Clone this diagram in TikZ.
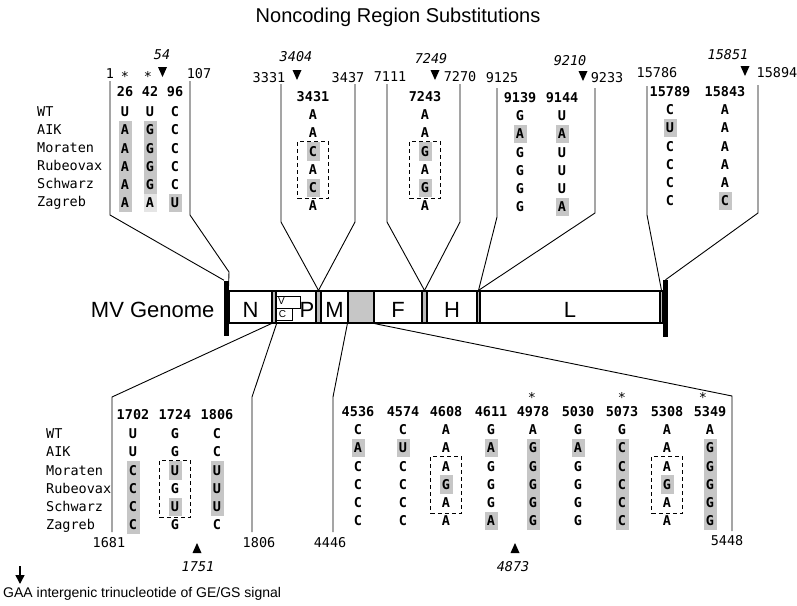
\documentclass[tikz,border=0pt]{standalone}
\usepackage{fontspec}
\setmainfont{Liberation Sans}
\newfontfamily\seqfont{DejaVu Sans Mono}
\usetikzlibrary{fit,arrows.meta}

\tikzset{txt/.style = {inner sep=0pt, text height=9.5pt, text depth=0pt}}
\tikzset{lbl/.style = {txt, font=\seqfont\fontsize{13.5}{15}\selectfont}}
\tikzset{hdr/.style = {txt, font=\seqfont\bfseries\fontsize{13.5}{15}\selectfont}}
\tikzset{ita/.style = {txt, font=\seqfont\itshape\fontsize{13.5}{15}\selectfont}}
\tikzset{astk/.style = {txt, font=\seqfont\fontsize{13.5}{14}\selectfont}}
\tikzset{nt/.style = {hdr, minimum width=13pt, minimum height=18.4pt}}
\tikzset{f0/.style = {}}
\tikzset{f1/.style = {fill=gray!45}}
\tikzset{f2/.style = {fill=gray!20}}
\tikzset{dbox/.style = {draw, line width=0.9pt, dash pattern=on 4pt off 3pt, inner xsep=8.5pt, inner ysep=1pt}}
\tikzset{conn/.style = {line width=0.9pt}}
\tikzset{seg/.style = {draw, line width=1.2pt, inner sep=0pt, minimum height=32pt, text height=20pt, text depth=0pt, font=\fontsize{22}{24}\selectfont}}
\tikzset{gapseg/.style = {seg, fill=gray!55}}
\tikzset{endbar/.style = {fill=black, inner sep=0pt, minimum width=4.5pt}}
\tikzset{vcbox/.style = {draw, line width=0.7pt, inner sep=0pt, minimum height=12pt}}
\tikzset{small/.style = {inner sep=0pt, font=\fontsize{10}{12}\selectfont}}
\tikzset{downtri/.pic = {\fill (-4.5,-5) -- (4.5,-5) -- (0,5) -- cycle;}}
\tikzset{uptri/.pic = {\fill (-4.5,5) -- (4.5,5) -- (0,-5) -- cycle;}}

\begin{document}
\begin{tikzpicture}[x=1pt, y=-1pt]
	\useasboundingbox (0,0) rectangle (797,605);
	% Title
	\node[anchor=base, font=\fontsize{20}{24}\selectfont] (title) at (398,23) {Noncoding Region Substitutions};
	% Genome
	\node[anchor=base east, font=\fontsize{22}{24}\selectfont] (mvg) at (218,317) {MV Genome};
	\node[endbar, minimum height=55pt] (lbar) at (226.5,308) {};
	\node[seg, minimum width=43pt]          (N) at (250.5,307) {N};
	\node[gapseg, minimum width=4pt]      (gNP) at (274,307) {};
	\node[seg, minimum width=40pt]          (P) at (296,307) {};
	\node[vcbox, minimum width=24pt]     (Vbox) at (288,302) {};
	\node[vcbox, minimum width=16pt]     (Cbox) at (284,314) {};
	\node[small]                           (Vl) at (281.5,301) {V};
	\node[small]                           (Cl) at (282.5,314.5) {C};
	\node[anchor=base, inner sep=0pt, font=\fontsize{22}{24}\selectfont] (Pl) at (307,317) {P};
	\node[gapseg, minimum width=5pt]      (gPM) at (318.5,307) {};
	\node[seg, minimum width=27pt]          (M) at (334.5,307) {M};
	\node[gapseg, minimum width=26pt, fill=gray!45] (MF) at (361,307) {};
	\node[seg, minimum width=48pt]          (F) at (398,307) {F};
	\node[gapseg, minimum width=5pt]      (gFH) at (424.5,307) {};
	\node[seg, minimum width=50pt]          (H) at (452,307) {H};
	\node[gapseg, minimum width=3pt]      (gHL) at (478.5,307) {};
	\node[seg, minimum width=180pt]         (L) at (570,307) {L};
	\node[gapseg, minimum width=3pt]      (gLE) at (661.5,307) {};
	\node[endbar, minimum height=57pt] (rbar) at (665.5,308.5) {};
	% Strain names
	\foreach \s [count=\row] in {WT,AIK,Moraten,Rubeovax,Schwarz,Zagreb} {
		\node[lbl, anchor=west] (tl\row) at (37,{112+18*(\row-1)}) {\s};
		\node[lbl, anchor=west] (bl\row) at (46,{434+18.2*(\row-1)}) {\s};
	}
	% Positions
	\node[lbl]     (n1) at (110,74) {1};
	\node[lbl]   (n107) at (199,74) {107};
	\node[lbl]  (n3331) at (269,78) {3331};
	\node[lbl]  (n3437) at (348,78) {3437};
	\node[lbl]  (n7111) at (390,77) {7111};
	\node[lbl]  (n7270) at (460,77) {7270};
	\node[lbl]  (n9125) at (502,78) {9125};
	\node[lbl]  (n9233) at (607,78) {9233};
	\node[lbl] (n15786) at (657,73) {15786};
	\node[lbl] (n15894) at (777,73) {15894};
	\node[lbl]  (n1681) at (109,543) {1681};
	\node[lbl]  (n1806) at (259,543) {1806};
	\node[lbl]  (n4446) at (330,543) {4446};
	\node[lbl]  (n5448) at (727,541) {5448};
	% GE/GS trinucleotides
	\node[ita]    (i54) at (162,55) {54};
	\node[ita]  (i3404) at (296,57) {3404};
	\node[ita]  (i7249) at (431,59) {7249};
	\node[ita]  (i9210) at (570,61) {9210};
	\node[ita] (i15851) at (728,55) {15851};
	\node[ita]  (i1751) at (198,567) {1751};
	\node[ita]  (i4873) at (513,567) {4873};
	\foreach \p in {(162.5,72), (297,75), (435,75), (583,76), (745,71)}
		\pic at \p {downtri};
	\foreach \p in {(197,548), (515,548)}
		\pic at \p {uptri};
	% Stars
	\foreach \p [count=\k] in {(125,77), (148,77), (532,398), (622,398), (703,398)}
		\node[astk] (st\k) at \p {*};
	% Column heads
	\foreach \cx/\cy/\h [count=\k] in {125/92/26, 150/92/42, 175/92/96, 313/97/3431, 425/97/7243,
			520/98/9139, 562/98/9144, 670/92/15789, 725/92/15843, 133/415/1702, 175/415/1724, 217/415/1806,
			358/412/4536, 403/412/4574, 446/412/4608, 491/412/4611, 533/412/4978, 578/412/5030,
			622/412/5073, 667/412/5308, 710/412/5349}
		\node[hdr] (h\k) at (\cx,\cy) {\h};
	% Nucleotides
	\foreach \cx/\cy/\col [count=\k] in {
			125/112/{U/0,A/1,A/1,A/1,A/1,A/1}, 150/112/{U/0,G/1,G/1,G/1,G/1,A/2},
			175/112/{C/0,C/0,C/0,C/0,C/0,U/1}, 313/115/{A/0,A/0,C/1,A/0,C/1,A/0},
			425/115/{A/0,A/0,G/1,A/0,G/1,A/0}, 520/116/{G/0,A/1,G/0,G/0,G/0,G/0},
			562/116/{U/0,A/1,U/0,U/0,U/0,A/1}, 670/110/{C/0,U/1,C/0,C/0,C/0,C/0},
			725/110/{A/0,A/0,A/0,A/0,A/0,C/1}, 133/434/{U/0,U/0,C/1,C/1,C/1,C/1},
			175/434/{G/0,G/0,U/1,G/0,U/1,G/0}, 217/434/{C/0,C/0,U/1,U/1,U/1,C/0},
			358/430/{C/0,A/1,C/0,C/0,C/0,C/0}, 403/430/{C/0,U/1,C/0,C/0,C/0,C/0},
			446/430/{A/0,A/0,A/0,G/1,A/0,A/0}, 491/430/{G/0,A/1,G/0,G/0,G/0,A/1},
			533/430/{A/0,G/1,G/1,G/1,G/1,G/1}, 578/430/{G/0,A/1,G/0,G/0,G/0,G/0},
			622/430/{G/0,C/1,C/1,C/1,C/1,C/1}, 667/430/{A/0,A/0,A/0,G/1,A/0,A/0},
			710/430/{A/0,G/1,G/1,G/1,G/1,G/1}}
		\foreach \nuc/\fl [count=\row] in \col
			\node[nt, f\fl] (c\k-\row) at (\cx,{\cy+18.2*(\row-1)}) {\nuc};
	% Dashed boxes
	\foreach \k in {4,5,11,15,20}
		\node[dbox, fit=(c\k-3)(c\k-5)] (box\k) {};
	% Connectors
	\coordinate (t1a) at (110,81);  \coordinate (t1b) at (110,215);
	\coordinate (t1c) at (190,81);  \coordinate (t1d) at (190,215);  \coordinate (t1e) at (229,272);
	\coordinate (t2a) at (281,84);  \coordinate (t2b) at (281,222);
	\coordinate (t2c) at (355,84);  \coordinate (t2d) at (355,222);
	\coordinate (t3a) at (387,84);  \coordinate (t3b) at (387,222);
	\coordinate (t3c) at (460,84);  \coordinate (t3d) at (460,222);
	\coordinate (t4a) at (497,88);  \coordinate (t4b) at (497,217);
	\coordinate (t4c) at (595,88);  \coordinate (t4d) at (595,213);
	\coordinate (t5a) at (647,86);  \coordinate (t5b) at (647,215);
	\coordinate (t5c) at (758,85);  \coordinate (t5d) at (758,213);
	\coordinate (b1a) at (112,397); \coordinate (b1b) at (112,532);
	\coordinate (b1c) at (252,397); \coordinate (b1d) at (252,532);
	\coordinate (b2a) at (333,397); \coordinate (b2b) at (333,532);
	\coordinate (b2c) at (732,396); \coordinate (b2d) at (732,531);
	\foreach \from/\via/\to in {t1a/t1b/lbar.north west, t2a/t2b/gPM.north, t2c/t2d/gPM.north,
			t3a/t3b/gFH.north, t3c/t3d/gFH.north, t4a/t4b/gHL.north, t4c/t4d/gHL.north,
			t5a/t5b/gLE.north, t5c/t5d/rbar.north, b1b/b1a/gNP.south west, b1d/b1c/gNP.south east,
			b2b/b2a/MF.south west, b2d/b2c/MF.south east}
		\draw[conn] (\from) -- (\via) -- (\to);
	\draw[conn] (t1c) -- (t1d) -- (t1e) -- (N.north west);
	% Legend
	\coordinate (lgA) at (20,566);
	\coordinate (lgB) at (20,584);
	\draw[line width=1.6pt, -{Triangle[width=9pt,length=9pt]}] (lgA) -- (lgB);
	\node[anchor=base west, inner sep=0pt, font=\fontsize{14}{16}\selectfont] (legend) at (3,597) {GAA intergenic trinucleotide of GE/GS signal};
\end{tikzpicture}
\end{document}
